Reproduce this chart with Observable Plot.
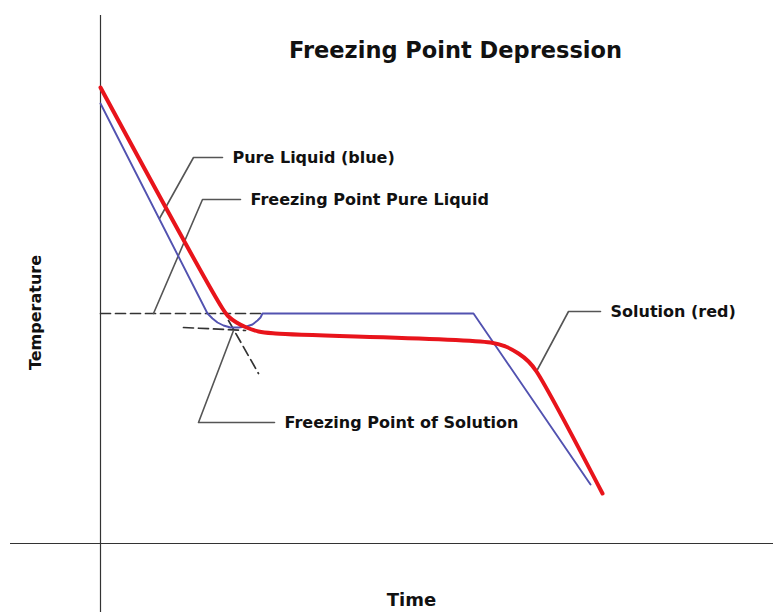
<!DOCTYPE html>
<html>
<head>
<meta charset="utf-8">
<script src="https://cdn.jsdelivr.net/npm/d3@7"></script>
<script src="https://cdn.jsdelivr.net/npm/@observablehq/plot@0.6"></script>
<style>
  html, body { margin: 0; padding: 0; background: #fff; }
  #chart svg { display: block; }
</style>
</head>
<body>
<div id="chart"></div>
<script>
// Time / temperature in arbitrary units (origin at axes crossing)
const pureTime  = [0, 107, 112, 117, 123, 130, 138, 146, 152, 157, 160, 162, 373, 490];
const pureTemp  = [440, 230, 225, 221, 218, 216, 216, 217, 219, 223, 226, 230, 230, 59];

const solTime   = [0, 122, 128, 136, 146, 158, 175, 390, 405, 418, 428, 436, 502];
const solTemp   = [456, 235, 227, 221, 216, 212, 210, 201, 197, 190, 182, 172, 50];

// Dashed construction lines
const fpPureTime = [0, 162];        const fpPureTemp = [230, 230];
const plateauExtTime = [83, 145];   const plateauExtTemp = [216, 213];
const coolExtTime = [128, 158];     const coolExtTemp = [223, 170];

// Annotations: leader lines and labels
const labels = [
  "Pure Liquid (blue)",
  "Freezing Point Pure Liquid",
  "Freezing Point of Solution",
  "Solution (red)"
];
const leaderTime = [[59, 93, 122], [53, 102, 140], [133, 98, 174], [437, 468, 500]];
const leaderTemp = [[325, 386, 386], [230, 344, 344], [213, 121, 121], [174, 232, 232]];

const title = "Freezing Point Depression";
const xLabel = "Time";
const yLabel = "Temperature";

const toPts = (xs, ys, extra = {}) => xs.map((x, i) => ({x, y: ys[i], ...extra}));
const pure = toPts(pureTime, pureTemp);
const sol = toPts(solTime, solTemp);
const dashed = [
  ...toPts(fpPureTime, fpPureTemp, {k: "a"}),
  ...toPts(plateauExtTime, plateauExtTemp, {k: "b"}),
  ...toPts(coolExtTime, coolExtTemp, {k: "c"})
];
const leaders = leaderTime.flatMap((xs, j) => toPts(xs, leaderTemp[j], {k: j}));
const labelPts = labels.map((t, j) => ({text: t, x: leaderTime[j][2] + 10, y: leaderTemp[j][2]}));

const font = "DejaVu Sans, Verdana, sans-serif";

const chart = Plot.plot({
  width: 773,
  height: 612,
  margin: 0,
  x: {domain: [-100, 673], axis: null},
  y: {domain: [-69, 543], axis: null},
  style: {background: "#fff", fontFamily: font},
  marks: [
    // axes
    Plot.ruleX([0], {y1: -69, y2: 528, stroke: "#333", strokeWidth: 1.2}),
    Plot.ruleY([0], {x1: -90, x2: 673, stroke: "#333", strokeWidth: 1.2}),
    // dashed construction lines
    Plot.line(dashed, {x: "x", y: "y", z: "k", stroke: "#333", strokeWidth: 1.7, strokeDasharray: "10,5"}),
    // leader lines
    Plot.line(leaders, {x: "x", y: "y", z: "k", stroke: "#555", strokeWidth: 1.6}),
    // pure liquid (blue)
    Plot.line(pure, {x: "x", y: "y", stroke: "#5252b0", strokeWidth: 1.9}),
    // solution (red)
    Plot.line(sol, {x: "x", y: "y", stroke: "#e8141b", strokeWidth: 4, curve: "catmull-rom"}),
    // labels
    Plot.text(labelPts, {x: "x", y: "y", text: "text", textAnchor: "start", lineAnchor: "middle",
      fontSize: 16, fontWeight: "bold", fill: "#111"}),
    Plot.text([title], {x: 355, y: 493, text: d => d, textAnchor: "middle", lineAnchor: "middle",
      fontSize: 22.5, fontWeight: "bold", fill: "#111"}),
    Plot.text([xLabel], {x: 311, y: -57, text: d => d, textAnchor: "middle", lineAnchor: "middle",
      fontSize: 18, fontWeight: "bold", fill: "#111"}),
    Plot.text([yLabel], {x: -65, y: 231, text: d => d, rotate: -90, textAnchor: "middle", lineAnchor: "middle",
      fontSize: 16, fontWeight: "bold", fill: "#111"})
  ]
});
document.getElementById("chart").appendChild(chart);
</script>
</body>
</html>
